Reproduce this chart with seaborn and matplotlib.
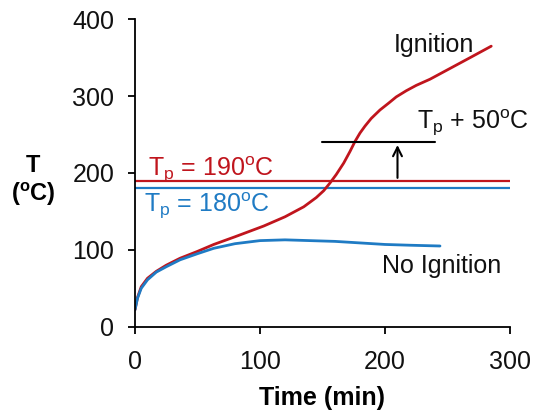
import matplotlib
matplotlib.use("Agg")
import matplotlib.pyplot as plt
import seaborn as sns
import pandas as pd

# curve
t_ign = [0, 2, 5, 10, 17, 25, 36, 50, 63, 80, 103, 120, 135, 145, 151, 156, 161,
         167, 172, 176, 180, 184, 189, 196, 203, 209, 217, 225, 236, 252, 268, 285]
T_ign = [22, 38, 52, 63, 72, 80, 89, 98, 107, 117, 131, 143, 156, 168, 177, 187, 198,
         213, 228, 241, 252, 261, 271, 282, 291, 299, 307, 314, 322, 336, 350, 365]

t_no = [0, 2, 5, 10, 17, 25, 36, 50, 63, 80, 100, 120, 140, 160, 180, 200, 220, 244]
T_no = [22, 37, 50, 61, 71, 78, 87, 95, 102, 108, 112, 113, 112, 111, 109, 107, 106, 105]

Tp_ign = 190
Tp_no = 180
Tp_plus = 240
arrow_t = 210

RED = "#C0151D"
BLUE = "#1F7BC4"

sns.set_style("ticks")
plt.rcParams["font.family"] = ["Liberation Sans", "DejaVu Sans"]
plt.rcParams["mathtext.fontset"] = "custom"
plt.rcParams["mathtext.rm"] = "Liberation Sans"
plt.rcParams["mathtext.it"] = "Liberation Sans"
plt.rcParams["mathtext.bf"] = "Liberation Sans:bold"

df_ign = pd.DataFrame({"t": t_ign, "T": T_ign})
df_no = pd.DataFrame({"t": t_no, "T": T_no})

fig = plt.figure(figsize=(5.37, 4.19), dpi=100)
ax = fig.add_axes([0.2514, 0.2203, 0.6983, 0.7337])

ax.axhline(Tp_ign, color=RED, lw=1.6)
ax.axhline(Tp_no, color=BLUE, lw=1.6)

sns.lineplot(data=df_ign, x="t", y="T", color=RED, lw=2, ax=ax)
sns.lineplot(data=df_no, x="t", y="T", color=BLUE, lw=2, ax=ax)

# linea Tp + 50 e freccia
ax.plot([150, 240], [Tp_plus, Tp_plus], color="black", lw=1.5)
ax.annotate("", xy=(arrow_t, Tp_plus), xytext=(arrow_t, Tp_ign),
            arrowprops=dict(arrowstyle="->", color="black", lw=1.5, mutation_scale=16))

fs = 18
ax.text(10, 196, r"T$_{\mathrm{p}}$ = 190$^{\mathrm{o}}$C", color=RED, fontsize=fs)
ax.text(7, 150, r"T$_{\mathrm{p}}$ = 180$^{\mathrm{o}}$C", color=BLUE, fontsize=fs)
ax.text(226, 258, r"T$_{\mathrm{p}}$ + 50$^{\mathrm{o}}$C", color="#111111", fontsize=fs)
ax.text(207, 366, "Ignition", color="#111111", fontsize=fs, va="center")
ax.text(198, 79, "No Ignition", color="#111111", fontsize=fs, va="center")

ax.set_xlim(0, 300)
ax.set_ylim(0, 400)
ax.set_xticks([0, 100, 200, 300])
ax.set_yticks([0, 100, 200, 300, 400])
ax.tick_params(axis="both", labelsize=fs, length=5, width=1.3, color="black",
               labelcolor="#111111")
ax.tick_params(axis="x", pad=12)
ax.tick_params(axis="y", pad=10)
for s in ["left", "bottom"]:
    ax.spines[s].set_linewidth(1.3)
    ax.spines[s].set_color("black")
sns.despine(ax=ax)

ax.set_xlabel("Time (min)", fontsize=18, fontweight="bold", va="center", color="black")
ax.xaxis.set_label_coords(0.50, -0.232)
ax.set_ylabel("T\n(" + r"$^{\mathbf{o}}$" + "C)", fontsize=17, fontweight="bold",
              rotation=0, ha="center", va="center", multialignment="center", color="black")
ax.yaxis.set_label_coords(-0.272, 0.474)

fig.savefig("out.png", dpi=100)
